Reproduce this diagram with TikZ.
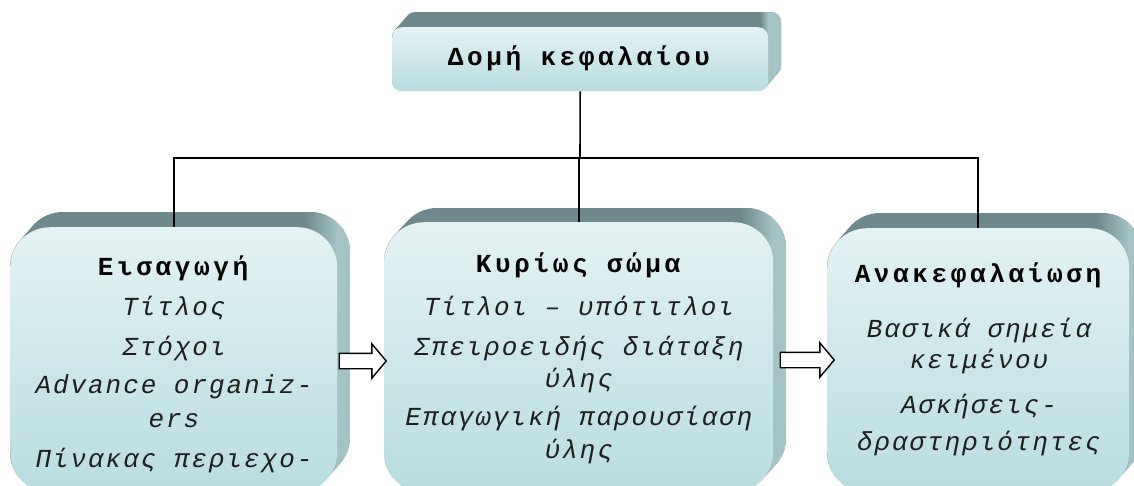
\documentclass[tikz,border=0pt]{standalone}
\usepackage{fontspec}
\newfontfamily\headfont[LetterSpace=14]{Liberation Mono}
\newfontfamily\itemfont[LetterSpace=7.5]{Liberation Mono}
\usetikzlibrary{shapes.arrows}

\definecolor{facetop}{HTML}{E4F2F3}
\definecolor{facebot}{HTML}{B8DDE1}
\definecolor{rimdark}{HTML}{6D898B}
\definecolor{rimlight}{HTML}{A3C3C5}
\definecolor{inkgray}{HTML}{1E1E1E}

% extruded rim behind a rounded face: x1 y1 x2 y2 radius dx dy
\newcommand\slabrim[7]{%
  \begin{scope}
    \clip[rounded corners=#5pt] \foreach \t in {0,...,20}{
      ({#1+\t*#6/20},{#2-\t*#7/20}) rectangle ({#3+\t*#6/20},{#4-\t*#7/20})};
    \fill[rimdark] (#1,{#2-#7-1}) rectangle ({#3+#6+1},#4);
    \shade[left color=rimdark,right color=rimlight] ({#3-#5*0.8},{#2-#7-1}) rectangle (#3,#4);
    \fill[rimlight] (#3,{#2-#7-1}) rectangle ({#3+#6+1},#4);
  \end{scope}}

\tikzset{
  face/.style={top color=facetop, bottom color=facebot, draw=none, inner sep=0pt, anchor=north west},
  link/.style={draw=black, line width=1.6pt},
  blockarrow/.style={single arrow, draw=black, fill=white, line width=1.4pt,
    inner xsep=0pt, inner ysep=7pt, single arrow head extend=9.5pt,
    single arrow tip angle=100, anchor=center},
  headtxt/.style={font=\headfont\bfseries\fontsize{26}{30}\selectfont, text=black, anchor=base, inner sep=0pt},
  itemtxt/.style={font=\itemfont\itshape\fontsize{26}{30}\selectfont, text=inkgray, anchor=base, inner sep=0pt},
}

\begin{document}
\begin{tikzpicture}[x=1pt, y=-1pt]
  \useasboundingbox (0,0) rectangle (1134,485);
  \clip (0,0) rectangle (1134,485);

  % rims
  \slabrim{392}{27}{768}{91}{10}{13}{15}
  \slabrim{10}{227}{337}{492}{40}{13}{15}
  \slabrim{384}{222}{773}{492}{40}{13}{14}
  \slabrim{827}{228}{1129}{492}{40}{13}{15}

  % front faces
  \node[face, rounded corners=10pt, minimum width=376pt, minimum height=64pt] (top) at (392,27) {};
  \node[face, rounded corners=40pt, minimum width=327pt, minimum height=265pt] (intro) at (10,227) {};
  \node[face, rounded corners=40pt, minimum width=389pt, minimum height=270pt] (body) at (384,222) {};
  \node[face, rounded corners=40pt, minimum width=302pt, minimum height=264pt] (summary) at (827,228) {};

  % tree connectors
  \coordinate (hub) at (580,158);
  \draw[link] (top.south) -- (hub);
  \draw[link] (intro.north) |- (hub) -| (summary.north);
  \draw[link] (body.north) -- (body.north |- hub);

  % block arrows between the sections
  \node[blockarrow, minimum height=47pt] (arrowA) at (359.5,361) {};
  \node[blockarrow, minimum height=54pt] (arrowB) at (804,360) {};

  % texts
  \node[headtxt] (tTop) at (579,65) {Δομή κεφαλαίου};

  \node[headtxt] (tIntro) at (173,275) {Εισαγωγή};
  \node[itemtxt] (i1) at (174,315) {Τίτλος};
  \node[itemtxt] (i2) at (174,355) {Στόχοι};
  \node[itemtxt] (i3) at (174,393) {Advance organiz-};
  \node[itemtxt] (i4) at (174,427) {ers};
  \node[itemtxt] (i5) at (174,467) {Πίνακας περιεχο-};

  \node[headtxt] (tBody) at (578,272) {Κυρίως σώμα};
  \node[itemtxt] (b1) at (579,315) {Τίτλοι – υπότιτλοι};
  \node[itemtxt] (b2) at (579,355) {Σπειροειδής διάταξη};
  \node[itemtxt] (b3) at (579,387) {ύλης};
  \node[itemtxt] (b4) at (579,425) {Επαγωγική παρουσίαση};
  \node[itemtxt] (b5) at (579,458) {ύλης};

  \node[headtxt] (tSum) at (978,282) {Ανακεφαλαίωση};
  \node[itemtxt] (s1) at (979,337) {Βασικά σημεία};
  \node[itemtxt] (s2) at (979,368) {κειμένου};
  \node[itemtxt] (s3) at (979,413) {Ασκήσεις-};
  \node[itemtxt] (s4) at (979,450) {δραστηριότητες};
\end{tikzpicture}
\end{document}
